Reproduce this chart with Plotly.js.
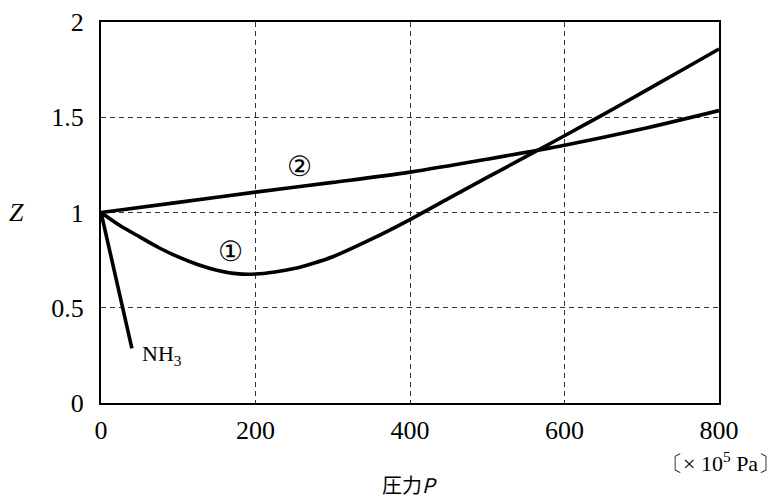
<!DOCTYPE html>
<html>
<head>
<meta charset="utf-8">
<script src="https://cdn.plot.ly/plotly-3.0.1.min.js"></script>
<style>html,body{margin:0;padding:0;background:#fff;}#chart{width:784px;height:501px;}</style>
</head>
<body>
<div id="chart"></div>
<script>
// Curve ① (P in ×10^5 Pa, Z)
const p1 = [0, 25, 50, 75, 100, 125, 150, 175, 200, 225, 250, 275, 300, 350, 400, 450, 500, 550, 600, 650, 700, 750, 800];
const z1 = [1.0, 0.93, 0.872, 0.815, 0.767, 0.727, 0.697, 0.679, 0.677, 0.688, 0.706, 0.734, 0.768, 0.86, 0.963, 1.074, 1.184, 1.293, 1.403, 1.514, 1.628, 1.743, 1.858];
// Curve ②
const p2 = [0, 100, 200, 300, 400, 500, 600, 700, 800];
const z2 = [1.0, 1.053, 1.107, 1.158, 1.212, 1.28, 1.353, 1.438, 1.535];
// NH3
const pNH3 = [0, 40];
const zNH3 = [1.0, 0.287];
// Axis ticks
const xTicks = [0, 200, 400, 600, 800];
const xTickText = ['0', '200', '400', '600', '800'];
const yTicks = [0, 0.5, 1, 1.5, 2];
const yTickText = ['0', '0.5', '1', '1.5', '2'];

const lineStyle = {color: '#000', width: 3.6};
const serif = '"Liberation Serif", "Times New Roman", serif';

const traces = [
  {x: p1, y: z1, mode: 'lines', line: Object.assign({shape: 'spline', smoothing: 0.8}, lineStyle), hoverinfo: 'skip'},
  {x: p2, y: z2, mode: 'lines', line: Object.assign({shape: 'spline', smoothing: 0.8}, lineStyle), hoverinfo: 'skip'},
  {x: pNH3, y: zNH3, mode: 'lines', line: lineStyle, hoverinfo: 'skip'}
];

const gridCol = '#333';
const layout = {
  width: 784, height: 501,
  margin: {l: 101, r: 65, t: 22, b: 98},
  paper_bgcolor: '#fff', plot_bgcolor: '#fff',
  showlegend: false,
  font: {family: serif, color: '#000', size: 26},
  xaxis: {
    range: [0, 800], tickvals: xTicks, ticktext: xTickText,
    showgrid: true, gridcolor: gridCol, griddash: '5px,4px', gridwidth: 1,
    showline: true, linecolor: '#000', linewidth: 2, mirror: true,
    zeroline: false, ticks: '', ticklabelstandoff: 3,
    tickfont: {family: serif, size: 26, color: '#000'}
  },
  yaxis: {
    range: [0, 2], tickvals: yTicks, ticktext: yTickText,
    showgrid: true, gridcolor: gridCol, griddash: '5px,4px', gridwidth: 1,
    showline: true, linecolor: '#000', linewidth: 2, mirror: true,
    zeroline: false, ticks: '', ticklabelstandoff: 10,
    tickfont: {family: serif, size: 26, color: '#000'}
  },
  annotations: [
    {x: 167, y: 0.794, xref: 'x', yref: 'y', text: '①', showarrow: false,
     xanchor: 'center', yanchor: 'middle',
     font: {family: '"DejaVu Serif", serif', size: 28, color: '#000'}},
    {x: 257, y: 1.244, xref: 'x', yref: 'y', text: '②', showarrow: false,
     xanchor: 'center', yanchor: 'middle',
     font: {family: '"DejaVu Serif", serif', size: 28, color: '#000'}},
    {x: 50, y: 0.25, xref: 'x', yref: 'y', text: 'NH<sub>3</sub>', showarrow: false,
     xanchor: 'left', yanchor: 'middle', font: {family: serif, size: 22, color: '#000'}},
    {x: -0.136, y: 0.5, xref: 'paper', yref: 'paper', text: '<i>Z</i>', showarrow: false,
     xanchor: 'center', yanchor: 'middle',
     font: {family: serif, size: 26, color: '#000'}},
    {x: 0.5, y: -0.215, xref: 'paper', yref: 'paper', text: '圧力<i>P</i>', showarrow: false,
     xanchor: 'center', yanchor: 'middle',
     font: {family: '"Noto Sans CJK JP", ' + serif, size: 20, color: '#000'}},
    {x: 1.102, y: -0.155, xref: 'paper', yref: 'paper', xanchor: 'right', yanchor: 'middle',
     text: '〔× 10<sup>5</sup> Pa〕', showarrow: false,
     font: {family: serif, size: 22, color: '#000'}}
  ]
};

Plotly.newPlot('chart', traces, layout, {staticPlot: true, displayModeBar: false});
</script>
</body>
</html>
